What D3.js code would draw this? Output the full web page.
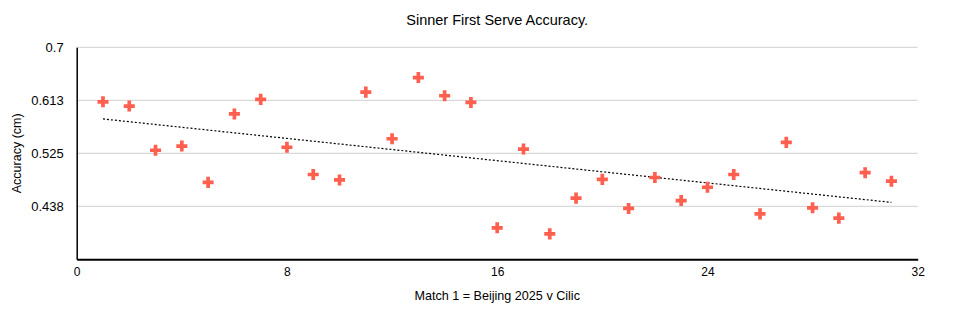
<!DOCTYPE html>
<html><head><meta charset="utf-8">
<script src="https://cdn.jsdelivr.net/npm/d3@7"></script>
<style>body{margin:0;background:#fff}svg text{font-family:"Liberation Sans",Arial,Helvetica,sans-serif}</style>
</head><body><svg id="c" width="956" height="322"></svg>
<script>
const matches = [1,2,3,4,5,6,7,8,9,10,11,12,13,14,15,16,17,18,19,20,21,22,23,24,25,26,27,28,29,30,31];
const accuracy = [0.610,0.603,0.530,0.537,0.477,0.590,0.614,0.535,0.490,0.481,0.626,0.549,0.650,0.620,0.609,0.402,0.532,0.392,0.451,0.482,0.434,0.485,0.447,0.469,0.490,0.425,0.543,0.435,0.418,0.493,0.479];
const xTicks = [0,8,16,24,32];
const yTicks = [0.4375,0.525,0.6125,0.7];
const yTickLabels = ["0.438","0.525","0.613","0.7"];

const svg = d3.select("#c");
const L=76.7, R=917.7, T=47.3, B=259.3;
const x = d3.scaleLinear().domain([0,32]).range([L,R]);
const y = d3.scaleLinear().domain([0.35,0.7]).range([B,T]);

// grid
svg.append("g").selectAll("line").data(yTicks).join("line")
  .attr("x1",L).attr("x2",R).attr("y1",d=>y(d)).attr("y2",d=>y(d))
  .attr("stroke","#d0d0d0").attr("stroke-width",1);

// axes
const yAxis = d3.axisLeft(y).tickValues(yTicks).tickSize(0).tickPadding(13)
  .tickFormat((d,i)=>yTickLabels[i]);
const gy = svg.append("g").attr("transform",`translate(${L},0)`).call(yAxis);
gy.select(".domain").attr("stroke","#000").attr("stroke-width",1.5);
gy.selectAll("text").attr("font-size",13).attr("fill","#000");

const xAxis = d3.axisBottom(x).tickValues(xTicks).tickSize(0).tickPadding(8).tickFormat(d3.format("d"));
const gx = svg.append("g").attr("transform",`translate(0,${B})`).call(xAxis);
gx.select(".domain").attr("stroke","#000").attr("stroke-width",2);
gx.selectAll("text").attr("font-size",12).attr("fill","#000");

// trend line (least squares)
const n = matches.length;
const mx = d3.mean(matches), my = d3.mean(accuracy);
const slope = d3.sum(matches.map((m,i)=>(m-mx)*(accuracy[i]-my))) / d3.sum(matches.map(m=>(m-mx)*(m-mx)));
const icpt = my - slope*mx;
const x0 = matches[0], x1 = matches[n-1];
svg.append("line")
  .attr("x1",x(x0)).attr("y1",y(icpt+slope*x0))
  .attr("x2",x(x1)).attr("y2",y(icpt+slope*x1))
  .attr("stroke","#000").attr("stroke-width",1.2).attr("stroke-dasharray","2,2");

// points
const sym = d3.symbol().type(d3.symbolCross).size(68);
svg.append("g").selectAll("path").data(matches).join("path")
  .attr("d",sym)
  .attr("transform",(d,i)=>`translate(${x(d)},${y(accuracy[i])})`)
  .attr("fill","#ff5f4f");

// title and labels
svg.append("text").attr("x",(L+R)/2).attr("y",25).attr("text-anchor","middle")
  .attr("font-size",14.5).text("Sinner First Serve Accuracy.");
svg.append("text").attr("x",(L+R)/2).attr("y",300).attr("text-anchor","middle")
  .attr("font-size",12.6).text("Match 1 = Beijing 2025 v Cilic");
svg.append("text").attr("transform",`translate(21,${(T+B)/2-0}) rotate(-90)`).attr("text-anchor","middle")
  .attr("font-size",12.5).text("Accuracy (cm)");
</script></body></html>
